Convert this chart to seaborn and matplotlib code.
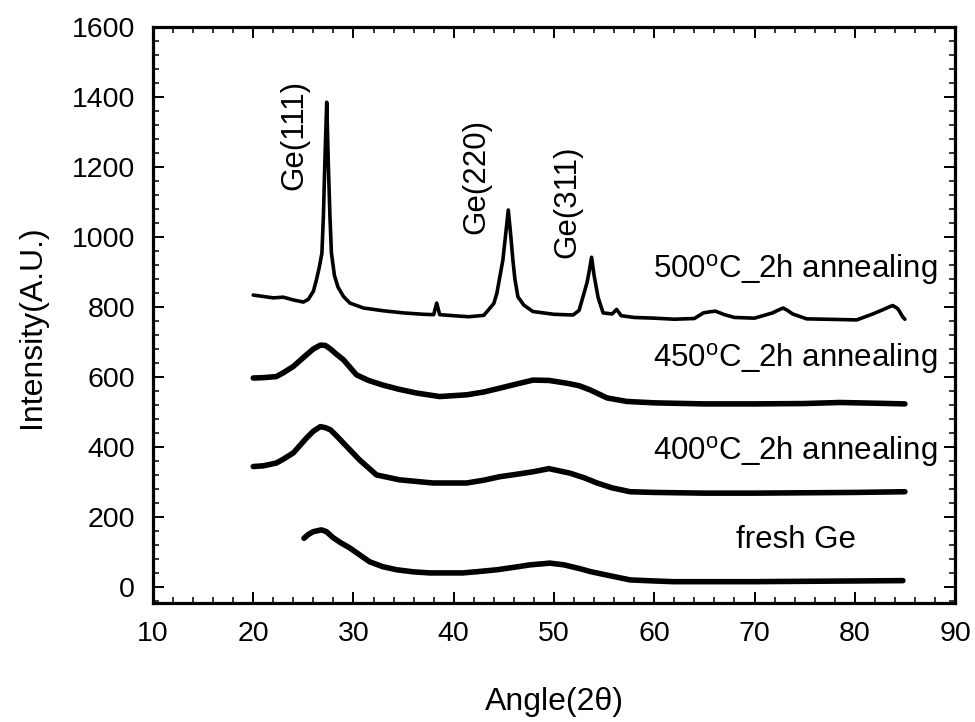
import matplotlib
matplotlib.use("Agg")
import matplotlib.pyplot as plt
import seaborn as sns
import pandas as pd
from matplotlib.ticker import MultipleLocator

# ---------------- data ----------------
x_500 = [20, 21, 22, 23, 24, 25, 25.5, 26.0, 26.3, 26.6, 26.85, 27.0, 27.15, 27.33,
         27.5, 27.65, 27.8, 28.1, 28.45, 29.0, 29.65, 31, 33, 35, 37, 38.0, 38.3, 38.6,
         40, 41.5, 43, 44.0, 44.3, 44.9, 45.15, 45.44, 45.7, 45.9, 46.1, 46.4, 47.0,
         47.9, 50, 51.9, 52.5, 52.9, 53.3, 53.5, 53.75, 54.0, 54.4, 54.9, 55.8, 56.25,
         56.7, 58, 60, 62, 64, 64.9, 65.5, 66.1, 67, 68, 70, 71.8, 72.3, 72.85, 73.3,
         73.8, 75.2, 77, 80.2, 81.8, 82.8, 83.5, 83.8, 84.3, 84.8, 85]
y_500 = [834, 830, 826, 828, 820, 814, 822, 845, 877, 915, 954, 1060, 1220, 1385,
         1200, 1060, 954, 890, 857, 830, 811, 797, 789, 783, 779, 778, 811, 778,
         775, 772, 776, 810, 839, 934, 1000, 1077, 1000, 934, 880, 829, 805,
         787, 779, 777, 790, 830, 870, 900, 942, 890, 827, 783, 780, 793,
         775, 770, 768, 765, 767, 783, 786, 788, 778, 770, 768, 783, 790, 797, 790,
         780, 766, 765, 763, 780, 792, 801, 804, 795, 771, 765]

x_450 = [20, 21, 22.3, 23, 24, 25.3, 26, 26.7, 27.2, 27.7, 28.3, 29, 30.3, 31.5,
         32.9, 34.5, 36.3, 38.6, 41.3, 43, 44.6, 46.3, 47.9, 49.5, 51.3, 52.5, 53.6,
         55.3, 57.25, 60, 65, 70, 75, 78.5, 82, 85]
y_450 = [597, 598, 601, 612, 630, 663, 680, 691, 690, 680, 665, 649, 606, 590,
         577, 565, 554, 544, 549, 557, 568, 580, 591, 590, 582, 575, 563,
         540, 530, 526, 523, 523, 524, 527, 525, 523]

x_400 = [20, 21, 22.3, 23, 24, 25.3, 26, 26.7, 27.2, 27.7, 28.3, 29, 30.6, 32.3,
         34.6, 37.9, 41.3, 43, 44.6, 46.3, 47.9, 49.5, 51.6, 53, 54.3, 55.8, 57.6,
         60, 65, 70, 75, 80, 85]
y_400 = [344, 346, 354, 365, 383, 425, 445, 458, 455, 449, 432, 411, 363, 320,
         306, 297, 297, 305, 315, 322, 329, 338, 325, 312, 297, 283, 272,
         270, 268, 268, 269, 270, 272]

x_fresh = [25.06, 25.5, 26, 26.8, 27.3, 28, 28.8, 29.65, 30.6, 31.6, 32.9, 34.3, 36,
           37.6, 40.9, 42.5, 44.3, 46, 47.6, 49.6, 51, 52.6, 53.6, 55.9, 57.6, 60,
           61.9, 65, 70, 75, 80, 84.8]
y_fresh = [139, 150, 158, 163, 158, 140, 125, 111, 92, 72, 58, 49, 43,
           40, 40, 44, 49, 56, 63, 68, 63, 52, 44, 30, 20, 17,
           15, 15, 15, 16, 17, 18]

series_labels = ["500$^{\\mathrm{o}}$C_2h annealing",
                 "450$^{\\mathrm{o}}$C_2h annealing",
                 "400$^{\\mathrm{o}}$C_2h annealing",
                 "fresh Ge"]
peak_labels = ["Ge(111)", "Ge(220)", "Ge(311)"]

# ---------------- style ----------------
sns.set_theme(style="ticks")
plt.rcParams["font.family"] = ["Liberation Sans", "DejaVu Sans"]
plt.rcParams["mathtext.fontset"] = "custom"
plt.rcParams["mathtext.rm"] = "Liberation Sans"
plt.rcParams["mathtext.it"] = "Liberation Sans:italic"
plt.rcParams["mathtext.bf"] = "Liberation Sans:bold"
for k in ["text.color", "axes.labelcolor", "xtick.color", "ytick.color",
          "xtick.labelcolor", "ytick.labelcolor", "axes.edgecolor"]:
    plt.rcParams[k] = "black"

fig = plt.figure(figsize=(9.75, 7.22), dpi=100)
ax = fig.add_axes([0.1569, 0.1648, 0.8226, 0.7978])

sns.lineplot(x=x_500, y=y_500, color="black", lw=2.6, sort=False, estimator=None, ax=ax)
sns.lineplot(x=x_450, y=y_450, color="black", lw=4.0, sort=False, estimator=None, ax=ax)
sns.lineplot(x=x_400, y=y_400, color="black", lw=4.0, sort=False, estimator=None, ax=ax)
sns.lineplot(x=x_fresh, y=y_fresh, color="black", lw=4.0, sort=False, estimator=None, ax=ax)

ax.set_xlim(10, 90)
ax.set_ylim(-46, 1600)
ax.xaxis.set_major_locator(MultipleLocator(10))
ax.xaxis.set_minor_locator(MultipleLocator(2))
ax.yaxis.set_major_locator(MultipleLocator(200))
ax.yaxis.set_minor_locator(MultipleLocator(40))

ax.tick_params(which="both", direction="in", top=True, right=True, colors="black")
ax.tick_params(which="major", length=8, width=1.4, labelsize=20.5, pad=13)
ax.tick_params(which="minor", length=4.5, width=1.1)
for sp in ax.spines.values():
    sp.set_linewidth(2.3)
    sp.set_color("black")

ax.set_xlabel("Angle(2θ)", fontsize=23, color="black")
ax.set_ylabel("Intensity(A.U.)", fontsize=23, color="black")
ax.xaxis.set_label_coords(0.5, -0.146)
ax.yaxis.set_label_coords(-0.132, 0.479)

# series annotations
ax.text(88.2, 883, series_labels[0], fontsize=22.5, ha="right", va="baseline")
ax.text(88.2, 629, series_labels[1], fontsize=22.5, ha="right", va="baseline")
ax.text(88.2, 363, series_labels[2], fontsize=22.5, ha="right", va="baseline")
ax.text(74.1, 111, series_labels[3], fontsize=22.5, ha="center", va="baseline")

# peak annotations
ax.text(24.1, 1291, peak_labels[0], fontsize=22.5, rotation=90, ha="center", va="center")
ax.text(42.3, 1173, peak_labels[1], fontsize=22.5, rotation=90, ha="center", va="center")
ax.text(51.3, 1100, peak_labels[2], fontsize=22.5, rotation=90, ha="center", va="center")

fig.savefig("out.png", dpi=100)
